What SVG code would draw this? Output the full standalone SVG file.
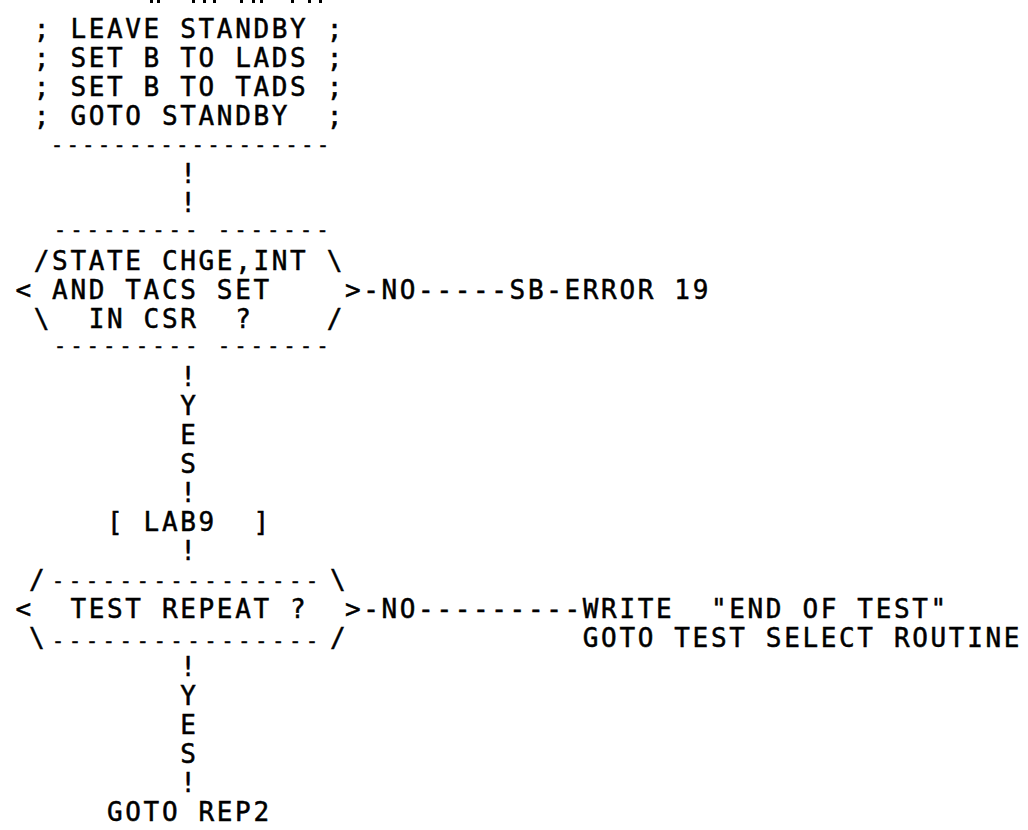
<svg xmlns="http://www.w3.org/2000/svg" width="1028" height="830" viewBox="0 0 1028 830" xml:space="preserve">
<style>
.t{font-family:"DejaVu Sans Mono","Liberation Mono",monospace;font-size:26px;letter-spacing:2.65px;fill:#000;stroke:#000;stroke-width:0.5px;white-space:pre}
.dash{font-size:20px}
.d0{letter-spacing:3.6px}
.d{letter-spacing:4.36px}
.d2{letter-spacing:4.9px}
.frag{fill:#000}
</style>
<rect width="1028" height="830" fill="#fff"/>
<g id="cut-off-row">
<rect class="frag" x="150" y="0" width="3" height="3"/><rect class="frag" x="157" y="0" width="3" height="3"/>
<rect class="frag" x="192" y="0" width="3" height="3"/><rect class="frag" x="203" y="0" width="3" height="3"/><rect class="frag" x="213" y="0" width="3" height="3"/>
<rect class="frag" x="240" y="0" width="3" height="3"/><rect class="frag" x="252" y="0" width="3" height="3"/><rect class="frag" x="260" y="0" width="3" height="3"/>
<rect class="frag" x="291" y="0" width="3" height="3"/><rect class="frag" x="308" y="0" width="3" height="3"/><rect class="frag" x="319" y="0" width="3" height="3"/>
</g>
<g id="node-action-box">
<text class="t" x="33.8" y="38">; LEAVE STANDBY ;</text>
<text class="t" x="33.8" y="67">; SET B TO LADS ;</text>
<text class="t" x="33.8" y="96">; SET B TO TADS ;</text>
<text class="t" x="33.8" y="125">; GOTO STANDBY  ;</text>
<text class="t dash d0" x="51" y="152">------------------</text>
</g>
<g id="node-decision-csr">
<text class="t dash d" x="54" y="237">--------- -------</text>
<text class="t" x="33.8" y="270">/STATE CHGE,INT \</text>
<text class="t" x="15.5" y="299">&lt; AND TACS SET    &gt;</text>
<text class="t" x="33.8" y="328">\  IN CSR  ?    /</text>
<text class="t dash d" x="54" y="353">--------- -------</text>
</g>
<g id="node-error19">
<text class="t" x="509.6" y="299">SB-ERROR 19</text>
</g>
<g id="node-lab9">
<text class="t" x="107" y="531">[ LAB9  ]</text>
</g>
<g id="node-decision-repeat">
<text class="t" x="29" y="589">/</text>
<text class="t dash d2" x="52" y="588">----------------</text>
<text class="t" x="330" y="589">\</text>
<text class="t" x="15.5" y="618">&lt;  TEST REPEAT ?  &gt;</text>
<text class="t" x="29" y="647">\</text>
<text class="t dash d2" x="52" y="648">----------------</text>
<text class="t" x="330" y="647">/</text>
</g>
<g id="node-end-of-test">
<text class="t" x="582.8" y="618">WRITE  "END OF TEST"</text>
<text class="t" x="582.8" y="647">GOTO TEST SELECT ROUTINE</text>
</g>
<g id="node-goto-rep2">
<text class="t" x="107" y="821">GOTO REP2</text>
</g>
<g id="connectors">
<text class="t" x="180.2" y="183">!</text>
<text class="t" x="180.2" y="212">!</text>
<text class="t" x="180.2" y="386">!</text>
<text class="t" x="180.2" y="415">Y</text>
<text class="t" x="180.2" y="444">E</text>
<text class="t" x="180.2" y="473">S</text>
<text class="t" x="180.2" y="502">!</text>
<text class="t" x="180.2" y="560">!</text>
<text class="t" x="180.2" y="676">!</text>
<text class="t" x="180.2" y="705">Y</text>
<text class="t" x="180.2" y="734">E</text>
<text class="t" x="180.2" y="763">S</text>
<text class="t" x="180.2" y="792">!</text>
<text class="t" x="363.2" y="299">-NO-----</text>
<text class="t" x="363.2" y="618">-NO---------</text>
</g>
</svg>
